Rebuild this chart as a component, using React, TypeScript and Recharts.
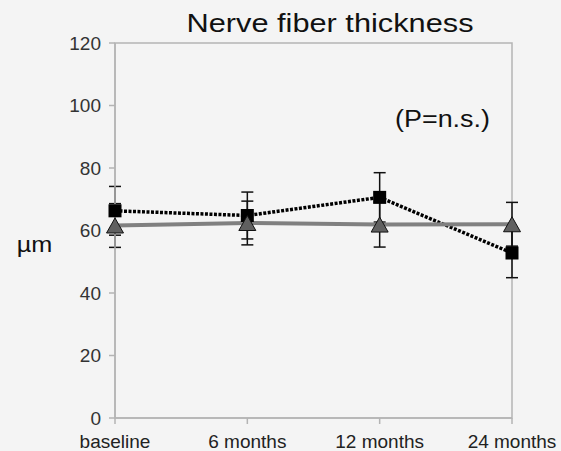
import React from 'react';
import { LineChart, Line, XAxis, YAxis, ErrorBar, ReferenceArea } from 'recharts';

const categories = ['baseline', '6 months', '12 months', '24 months'];
const squareValues = [66.3, 64.8, 70.6, 52.8];
const squareErrors = [7.8, 7.5, 7.9, 7.9];
const triangleValues = [61.6, 62.4, 61.9, 62.0];
const triangleErrors = [7.0, 7.0, 7.2, 7.0];
const yTicks = [0, 20, 40, 60, 80, 100, 120];
const titleText = 'Nerve fiber thickness';
const unitText = 'µm';
const noteText = '(P=n.s.)';

const data = categories.map((c, i) => ({
  cat: c,
  sq: squareValues[i],
  sqErr: squareErrors[i],
  tri: triangleValues[i],
  triErr: triangleErrors[i],
}));

const FONT = '"Liberation Sans", Arial, sans-serif';
const AXIS_GRAY = '#b4b4b4';

const SquareDot = (props: any) => {
  const { cx, cy, index } = props;
  if (cx == null || cy == null) return null;
  return <rect key={`sq-${index}`} x={cx - 6.5} y={cy - 6.5} width={13} height={13} fill="#000" />;
};

const TriangleDot = (props: any) => {
  const { cx, cy, index } = props;
  if (cx == null || cy == null) return null;
  const pts = `${cx},${cy - 7.5} ${cx - 8.5},${cy + 7.5} ${cx + 8.5},${cy + 7.5}`;
  return <polygon key={`tri-${index}`} points={pts} fill="#606060" stroke="#111" strokeWidth={1} />;
};

export default function App() {
  return (
    <div style={{ position: 'absolute', left: 0, top: 0, width: 561, height: 451, background: '#f4f4f4' }}>
      <LineChart
        width={561}
        height={451}
        data={data}
        margin={{ top: 43, right: 49, bottom: 0, left: 0 }}
      >
        <ReferenceArea
          x1="baseline"
          x2="24 months"
          y1={0}
          y2={120}
          fill="none"
          stroke={AXIS_GRAY}
          strokeWidth={1.5}
          fillOpacity={0}
        />
        <XAxis
          dataKey="cat"
          type="category"
          padding={{ left: 0, right: 0 }}
          height={33}
          tickSize={6}
          tickMargin={11}
          interval={0}
          axisLine={{ stroke: AXIS_GRAY, strokeWidth: 1.5 }}
          tickLine={{ stroke: AXIS_GRAY, strokeWidth: 1.5 }}
          tick={{ fill: '#222', fontSize: 19, fontFamily: FONT }}
        />
        <YAxis
          type="number"
          domain={[0, 120]}
          ticks={yTicks}
          width={115}
          tickSize={6}
          tickMargin={8}
          interval={0}
          axisLine={{ stroke: AXIS_GRAY, strokeWidth: 1.5 }}
          tickLine={{ stroke: AXIS_GRAY, strokeWidth: 1.5 }}
          tick={{ fill: '#333', fontSize: 19, fontFamily: FONT }}
        />
        <Line
          type="linear"
          dataKey="sq"
          stroke="#000"
          strokeWidth={3.5}
          strokeDasharray="3 1.5"
          dot={SquareDot}
          activeDot={false}
          isAnimationActive={false}
        >
          <ErrorBar dataKey="sqErr" direction="y" width={6} stroke="#111" strokeWidth={1.5} />
        </Line>
        <Line
          type="linear"
          dataKey="tri"
          stroke="#808080"
          strokeWidth={4}
          dot={TriangleDot}
          activeDot={false}
          isAnimationActive={false}
        >
          <ErrorBar dataKey="triErr" direction="y" width={6} stroke="#111" strokeWidth={1.5} />
        </Line>
      </LineChart>
      <svg
        width={561}
        height={451}
        style={{ position: 'absolute', left: 0, top: 0, pointerEvents: 'none' }}
      >
        <text
          x={330}
          y={31.7}
          textAnchor="middle"
          fontFamily={FONT}
          fontSize={25.5}
          fill="#111"
          textLength={287}
          lengthAdjust="spacingAndGlyphs"
        >
          {titleText}
        </text>
        <text
          x={34.5}
          y={251.7}
          textAnchor="middle"
          fontFamily={FONT}
          fontSize={22.5}
          fill="#111"
          textLength={35.6}
          lengthAdjust="spacingAndGlyphs"
        >
          {unitText}
        </text>
        <text
          x={442.5}
          y={126.7}
          textAnchor="middle"
          fontFamily={FONT}
          fontSize={23}
          fill="#111"
          textLength={95}
          lengthAdjust="spacingAndGlyphs"
        >
          {noteText}
        </text>
      </svg>
    </div>
  );
}
